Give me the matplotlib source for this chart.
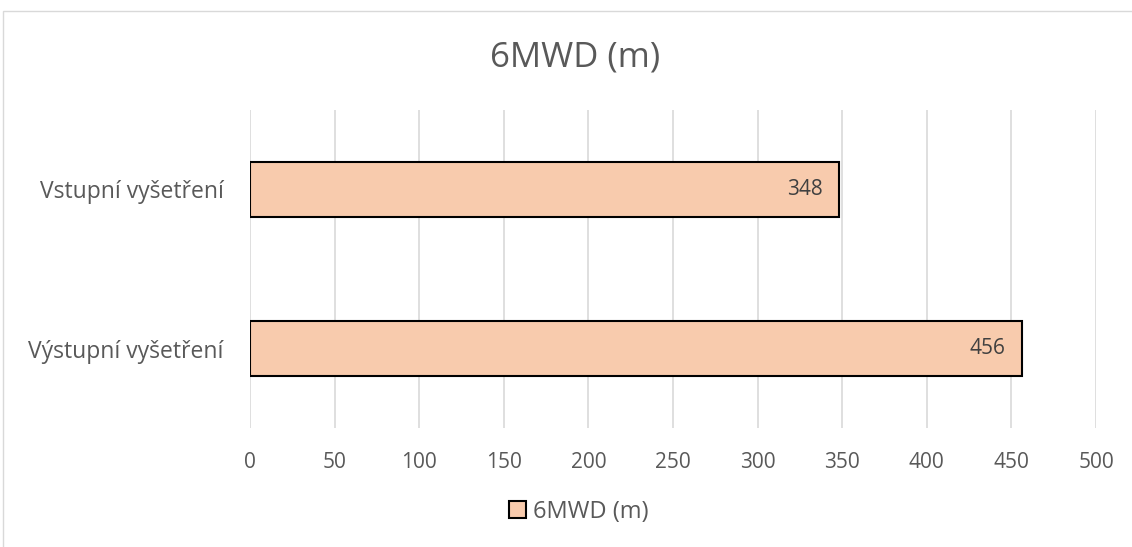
import matplotlib.pyplot as plt
from matplotlib.patches import Rectangle

# data
categories = ["Vstupní vyšetření", "Výstupní vyšetření"]
values = [348, 456]
series_name = "6MWD (m)"
x_ticks = [0, 50, 100, 150, 200, 250, 300, 350, 400, 450, 500]

BAR_COLOR = "#F8CBAD"
TEXT_COLOR = "#595959"
GRID_COLOR = "#D9D9D9"

plt.rcParams["font.family"] = ["Open Sans", "DejaVu Sans"]

fig = plt.figure(figsize=(11.32, 5.47), dpi=100)
ax = fig.add_axes([250 / 1132, 1 - 428 / 547, 846 / 1132, 318 / 547])

# chart frame
fig.patches.append(Rectangle((3 / 1132, -0.1), 1.2, 1.1 - 11 / 547,
                             transform=fig.transFigure, fill=False,
                             edgecolor=GRID_COLOR, linewidth=1.0))

ypos = [1, 0]
bars = ax.barh(ypos, values, height=0.35, color=BAR_COLOR,
               edgecolor="black", linewidth=1.5, zorder=3, label=series_name)

for b, v in zip(bars, values):
    ax.text(v - 9.5, b.get_y() + b.get_height() / 2, str(v),
            ha="right", va="center", fontsize=15, color="#404040", zorder=4)

ax.set_xlim(0, 500)
ax.set_ylim(-0.5, 1.5)
ax.set_xticks(x_ticks)
ax.set_yticks(ypos)
ax.set_yticklabels(categories)
ax.grid(axis="x", color=GRID_COLOR, linewidth=1.2, zorder=0)
ax.tick_params(axis="both", length=0, colors=TEXT_COLOR)
ax.tick_params(axis="x", pad=17, labelsize=15)
ax.tick_params(axis="y", pad=19, labelsize=16.5)
for s in ax.spines.values():
    s.set_visible(False)

fig.text(575 / 1132, 1 - 57 / 547, series_name, ha="center", va="center",
         fontsize=25, color=TEXT_COLOR)

fig.legend(handles=[bars], labels=[series_name], loc="center",
           bbox_to_anchor=(579 / 1132, 1 - 512 / 547), frameon=False,
           fontsize=17, labelcolor=TEXT_COLOR, handlelength=0.7,
           handleheight=0.7, handletextpad=0.3)

fig.savefig("out.png", dpi=100)
